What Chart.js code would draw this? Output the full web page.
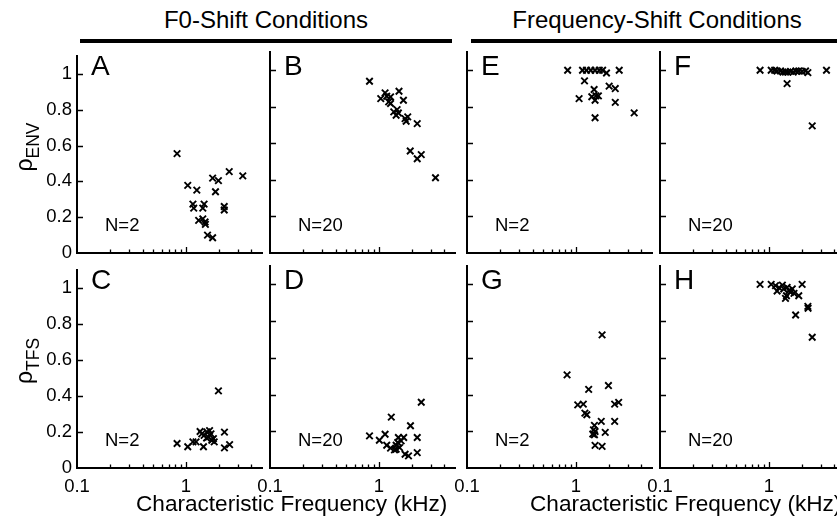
<!DOCTYPE html>
<html><head><meta charset="utf-8">
<script src="https://cdn.jsdelivr.net/npm/chart.js@4/dist/chart.umd.min.js"></script>
<style>
html,body{margin:0;padding:0;background:#fff;}
#wrap{position:relative;width:837px;height:517px;overflow:hidden;font-family:"Liberation Sans",Arial,sans-serif;color:#000;}
.cv{position:absolute;}
.t{position:absolute;white-space:nowrap;line-height:1;}
.bar{position:absolute;background:#000;}
</style></head><body><div id="wrap"></div>
<script>
// ---- data (CF in kHz, correlation rho) ----
const A_cf  = [0.83,1.04,1.26,1.16,1.18,1.43,1.47,1.31,1.43,1.50,1.51,1.58,1.76,1.76,1.99,1.87,2.25,2.25,2.50,3.33];
const A_rho = [0.555,0.378,0.351,0.273,0.251,0.251,0.273,0.182,0.191,0.173,0.160,0.100,0.085,0.418,0.404,0.342,0.260,0.240,0.455,0.431];
const B_cf  = [0.82,1.04,1.14,1.18,1.28,1.23,1.28,1.53,1.68,1.37,1.47,1.51,1.44,1.74,1.84,1.78,2.25,1.94,2.25,2.45,3.31];
const B_rho = [0.94,0.845,0.876,0.858,0.854,0.827,0.818,0.885,0.836,0.772,0.785,0.766,0.754,0.735,0.745,0.721,0.708,0.558,0.516,0.538,0.412];
const E_cf  = [0.84,1.15,1.25,1.37,1.50,1.64,1.76,1.91,2.50,1.20,1.47,1.07,1.40,1.53,1.61,1.50,2.02,2.30,2.30,1.50,3.43];
const E_rho = [1,1,1,1,1,1,1,0.985,1,0.942,0.895,0.845,0.855,0.86,0.86,0.836,0.913,0.9,0.824,0.74,0.767];
const F_cf  = [0.83,1.05,1.13,1.19,1.28,1.35,1.42,1.49,1.58,1.67,1.77,1.88,2.02,2.17,2.28,1.47,2.50,3.38];
const F_rho = [1,1,1,0.996,0.996,0.99,0.99,0.99,0.994,0.99,0.996,0.996,0.994,0.996,0.987,0.927,0.696,1];
const C_cf  = [0.83,1.04,1.16,1.24,1.35,1.45,1.47,1.56,1.61,1.70,1.73,1.79,1.82,1.65,1.99,2.26,2.26,2.52,1.55,1.40];
const C_rho = [0.136,0.118,0.145,0.145,0.203,0.118,0.181,0.200,0.172,0.190,0.154,0.163,0.145,0.208,0.429,0.199,0.112,0.130,0.167,0.190];
const D_cf  = [0.82,1.01,1.14,1.18,1.30,1.28,1.39,1.44,1.51,1.49,1.55,1.60,1.69,1.74,1.87,1.95,2.25,2.25,2.45,1.44];
const D_rho = [0.175,0.151,0.184,0.124,0.277,0.108,0.099,0.124,0.166,0.139,0.111,0.148,0.166,0.075,0.066,0.230,0.166,0.084,0.358,0.102];
const G_cf  = [0.83,1.04,1.17,1.21,1.26,1.31,1.48,1.45,1.43,1.50,1.48,1.71,1.74,1.86,1.99,2.27,2.47,2.27,1.50,1.74];
const G_rho = [0.507,0.344,0.348,0.299,0.290,0.428,0.232,0.208,0.185,0.199,0.181,0.254,0.725,0.194,0.449,0.348,0.357,0.254,0.123,0.118];
const H_cf  = [0.83,1.05,1.15,1.24,1.19,1.33,1.37,1.47,1.53,1.58,1.42,1.45,1.70,1.88,2.02,1.76,2.28,2.29,2.50,1.64];
const H_rho = [1,1,0.993,0.982,0.964,0.996,0.975,0.984,0.966,0.957,0.924,0.938,0.951,0.938,1,0.833,0.88,0.87,0.712,0.975];

// ---- ticks / labels ----
const xTickValues = [0.1,0.2,0.3,0.4,0.5,0.6,0.7,0.8,0.9,1,2,3,4,5];
const xMajor = [0.1, 1];
const xTickLabels = ['0.1','1'];
const yTickValues = [0,0.2,0.4,0.6,0.8,1];
const yTickLabels = ['0','0.2','0.4','0.6','0.8','1'];
const xRange = [0.1, 5];
const yRange = [0, 1.1];
const panelLetters = ['A','B','E','F','C','D','G','H'];
const panelN = ['N=2','N=20','N=2','N=20','N=2','N=20','N=2','N=20'];
const headings = ['F0-Shift Conditions','Frequency-Shift Conditions'];
const xTitle = 'Characteristic Frequency (kHz)';

const panelData = [[A_cf,A_rho],[B_cf,B_rho],[E_cf,E_rho],[F_cf,F_rho],[C_cf,C_rho],[D_cf,D_rho],[G_cf,G_rho],[H_cf,H_rho]];

// ---- layout ----
const colLefts = [77, 270, 467, 660];
const rowTops = [52, 266];
const rowBottoms = [253, 468];
const plotW = 185;
const padL = 70, padT = 12, padR = 12, padB = 45;
const FONT = '"Liberation Sans", Arial, sans-serif';
Chart.defaults.font.family = FONT;
Chart.defaults.color = '#000';

const wrap = document.getElementById('wrap');

function addText(txt, left, baseline, fs, extra) {
  const d = document.createElement('div');
  d.className = 't';
  d.textContent = txt;
  d.style.fontSize = fs + 'px';
  d.style.left = left + 'px';
  d.style.top = (baseline - 0.8465 * fs) + 'px';
  if (extra) Object.assign(d.style, extra);
  wrap.appendChild(d);
  return d;
}

const inwardTicks = {
  id: 'inwardTicks',
  afterDraw(chart) {
    const {ctx, chartArea: a, scales: {x, y}} = chart;
    ctx.save();
    ctx.strokeStyle = '#000';
    ctx.lineWidth = 1.3;
    ctx.beginPath();
    x.ticks.forEach(t => {
      if (t.value <= x.min || t.value >= x.max) return;
      const px = Math.round(x.getPixelForValue(t.value)) + 0.5;
      const len = xMajor.includes(t.value) ? 6 : 3.5;
      ctx.moveTo(px, a.bottom); ctx.lineTo(px, a.bottom - len);
    });
    y.ticks.forEach(t => {
      if (t.value <= y.min) return;
      const py = Math.round(y.getPixelForValue(t.value)) + 0.5;
      ctx.moveTo(a.left, py); ctx.lineTo(a.left + 6, py);
    });
    ctx.stroke();
    ctx.restore();
  }
};

panelData.forEach(([cf, rho], i) => {
  const row = Math.floor(i / 4), col = i % 4;
  const plotH = rowBottoms[row] - rowTops[row];
  const cv = document.createElement('canvas');
  cv.className = 'cv';
  const W = padL + plotW + padR, H = padT + plotH + padB;
  cv.width = W; cv.height = H;
  cv.style.width = W + 'px'; cv.style.height = H + 'px';
  cv.style.left = (colLefts[col] - padL) + 'px';
  cv.style.top = (rowTops[row] - padT) + 'px';
  wrap.appendChild(cv);
  new Chart(cv, {
    type: 'scatter',
    data: {
      datasets: [{
        data: cf.map((v, k) => ({x: v, y: rho[k]})),
        pointStyle: 'crossRot',
        pointRadius: 4.6,
        borderColor: '#000',
        backgroundColor: '#000',
        borderWidth: 1.9
      }]
    },
    options: {
      responsive: false,
      animation: false,
      events: [],
      layout: {autoPadding: false, padding: {left: 0, top: padT, right: padR, bottom: 0}},
      plugins: {legend: {display: false}, tooltip: {enabled: false}},
      scales: {
        x: {
          type: 'logarithmic',
          min: xRange[0], max: xRange[1],
          grid: {display: false, drawTicks: false},
          border: {display: true, color: '#000', width: 2},
          afterBuildTicks: s => { s.ticks = xTickValues.map(v => ({value: v, major: xMajor.includes(v)})); },
          afterFit: s => { s.height = padB; },
          ticks: {
            display: row === 1,
            autoSkip: false, maxRotation: 0, minRotation: 0,
            padding: 8,
            font: {size: 18.5},
            color: '#000',
            callback: v => { const k = xMajor.indexOf(v); return k >= 0 ? xTickLabels[k] : ''; }
          }
        },
        y: {
          type: 'linear',
          min: yRange[0], max: yRange[1],
          grid: {display: false, drawTicks: false},
          border: {display: true, color: '#000', width: 2},
          afterBuildTicks: s => { s.ticks = yTickValues.map(v => ({value: v})); },
          afterFit: s => { s.width = padL; },
          ticks: {
            display: col === 0,
            stepSize: 0.2,
            padding: 5,
            font: {size: 18.5},
            color: '#000',
            callback: v => { const k = yTickValues.indexOf(v); return k >= 0 ? yTickLabels[k] : ''; }
          }
        }
      }
    },
    plugins: [inwardTicks]
  });
  // panel letter and N label
  addText(panelLetters[i], colLefts[col] + 14, rowTops[row] + 24, 28);
  addText(panelN[i], colLefts[col] + 28, rowBottoms[row] - 21, 18.5);
});

// headings with bars
const h1 = addText(headings[0], 0, 28, 24); h1.style.left = '266px'; h1.style.transform = 'translateX(-50%)';
const h2 = addText(headings[1], 0, 28, 24); h2.style.left = '657px'; h2.style.transform = 'translateX(-50%)';
[[80, 372], [471, 370]].forEach(([l, w]) => {
  const b = document.createElement('div'); b.className = 'bar';
  b.style.left = l + 'px'; b.style.width = w + 'px'; b.style.top = '39px'; b.style.height = '4px';
  wrap.appendChild(b);
});

// x-axis titles
addText(xTitle, 136, 512, 22.6);
addText(xTitle, 530, 512, 22.6);

// y-axis titles (rotated)
function yTitle(sub, cx, cy) {
  const d = document.createElement('div');
  d.className = 't';
  d.style.left = cx + 'px'; d.style.top = cy + 'px';
  d.style.transform = 'translate(-50%,-50%) rotate(-90deg)';
  d.innerHTML = '<span style="font-size:23px">\u03C1</span><span style="font-size:17.5px;position:relative;top:7px">' + sub + '</span>';
  wrap.appendChild(d);
}
yTitle('ENV', 24, 147);
yTitle('TFS', 24, 361);
</script>
</body></html>
